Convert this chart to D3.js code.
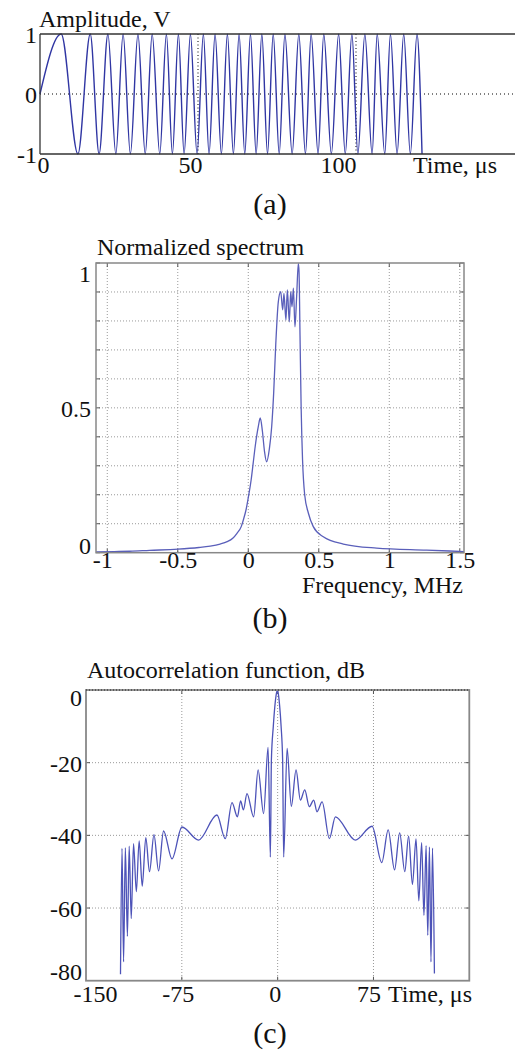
<!DOCTYPE html>
<html>
<head>
<meta charset="utf-8">
<script src="https://cdn.jsdelivr.net/npm/d3@7/dist/d3.min.js"></script>
<style>
body { margin: 0; background: #fff; font-family: "Liberation Serif"; }
svg { display: block; }
</style>
</head>
<body>
<div id="chart"></div>
<script>
// (a) chirp pulse: times of the extrema, us
var chirpTime = [0, 6.7, 12.0, 15.9, 18.7, 21.5, 24.0, 26.3, 28.6, 31.0, 33.3, 35.5, 37.9,
    40.0, 41.9, 43.8, 45.6, 47.6, 49.7, 51.7, 53.5, 55.4, 57.4, 59.3, 61.2, 63.0, 64.8,
    66.6, 68.4, 70.2, 72.0, 73.8, 75.7, 77.5, 79.8, 81.9, 84.0, 85.8, 88.0, 89.8, 92.2,
    94.5, 96.6, 98.7, 100.6, 102.8, 105.1, 106.7, 109.1, 110.9, 113.0, 115.1, 117.2, 119.3, 120.9];
var chirpLevel = [0, 1, -1, 1, -1, 1, -1, 1, -1, 1, -1, 1, -1,
    1, -1, 1, -1, 1, -1, 1, -1, 1, -1, 1, -1, 1, -1,
    1, -1, 1, -1, 1, -1, 1, -1, 1, -1, 1, -1, 1, -1,
    1, -1, 1, -1, 1, -1, 1, -1, 1, -1, 1, -1, 1, -1];
var ampTicksX = [0, 50, 100];
var ampTicksY = [1, 0, -1];
var ampGridX = [50, 100];

// (b) normalized spectrum
var specFreq = [-1.08, -0.95, -0.84, -0.7, -0.5, -0.35, -0.27, -0.2, -0.15, -0.11,
    -0.08, -0.05, -0.035, -0.015, 0, 0.02, 0.035, 0.05, 0.071, 0.085,
    0.1, 0.115, 0.13, 0.15, 0.166, 0.18, 0.195, 0.213, 0.23, 0.244,
    0.253, 0.267, 0.277, 0.291, 0.301, 0.31, 0.32, 0.331, 0.343, 0.355,
    0.36, 0.367, 0.375, 0.385, 0.40, 0.426, 0.461, 0.532, 0.674, 0.91, 1.265, 1.53];
var specAmp = [0.003, 0.004, 0.005, 0.008, 0.012, 0.018, 0.023, 0.03, 0.038, 0.05,
    0.067, 0.09, 0.113, 0.15, 0.19, 0.25, 0.31, 0.37, 0.435, 0.465,
    0.42, 0.35, 0.314, 0.36, 0.435, 0.55, 0.72, 0.866, 0.901, 0.838,
    0.895, 0.803, 0.907, 0.797, 0.901, 0.849, 0.913, 0.78, 0.884, 0.999,
    0.97, 0.75, 0.5, 0.32, 0.2, 0.137, 0.09, 0.055, 0.03, 0.016, 0.009, 0.004];
var specTicksX = [-1, -0.5, 0, 0.5, 1, 1.5];
var specTicksY = [0, 0.5, 1];
var specGridY = [0.1, 0.2, 0.3, 0.4, 0.5, 0.6, 0.7, 0.8, 0.9];

// (c) autocorrelation function, dB
var acfTime = [-123.0, -121.8, -120.6, -119.2, -117.6, -116.2, -114.6, -112.8, -110.6, -108.4,
    -106.0, -103.2, -100.3, -96.8, -93.2, -89.3, -82.7, -74.9, -61.9, -47.5,
    -41.0, -35.7, -31.5, -29.0, -26.8, -24.0, -18.8, -15.3, -11.0, -7.5,
    -5.7, -4.9, -3.4, -2.2, -1.0, -0.3, 0.5, 1.6, 2.7, 3.9,
    4.7, 7.4, 10.7, 14.4, 17.8, 21.2, 24.8, 28.2, 30.8, 34.8,
    40.5, 45.2, 60.8, 73.9, 81.5, 86.5, 91.5, 95.5, 99.5, 102.5,
    105.5, 108.3, 110.5, 112.7, 114.5, 116.2, 117.5, 118.8, 120.0, 121.2, 122.7];
var acfDb = [-78.2, -43.6, -74.8, -43.4, -67.8, -43.0, -62.9, -42.3, -55.5, -41.5,
    -54.0, -40.6, -50.0, -39.8, -49.8, -38.8, -46.5, -37.7, -41.3, -34.4,
    -40.9, -31.0, -34.9, -30.5, -33.0, -28.5, -34.9, -22.0, -34.0, -15.8,
    -46.0, -19.3, -10.0, -4.5, -1.0, 0.0, -1.0, -4.5, -10.0, -19.3,
    -46.0, -16.1, -32.0, -22.0, -30.3, -27.5, -32.1, -30.3, -33.5, -30.8,
    -40.9, -34.9, -41.3, -37.5, -47.5, -38.5, -49.5, -39.3, -50.0, -40.2,
    -53.5, -41.0, -58.0, -42.0, -62.0, -42.8, -67.5, -43.2, -74.8, -43.5, -78.0];
var acfTicksX = [-150, -75, 0, 75];
var acfTicksY = [0, -20, -40, -60, -80];
var acfGridX = [-75, 0, 75];
var acfGridY = [-20, -40, -60];

var W = 515, H = 1059;
var FONT = "Liberation Serif";

function styleAxis(g){
    g.select(".domain").remove();
    g.selectAll(".tick line").remove();
    g.attr("font-size", 24).attr("font-family", FONT);
    g.selectAll(".tick text").attr("fill", "#111").attr("dy", null);
}

function caption(svg, txt, y){
    svg.append("text")
        .attr("x", 270).attr("y", y)
        .attr("text-anchor", "middle")
        .attr("font-size", 30)
        .attr("font-family", FONT)
        .attr("fill", "#111")
        .text(txt);
}

function title(svg, txt, x, y, anchor){
    svg.append("text")
        .attr("x", x).attr("y", y)
        .attr("text-anchor", anchor || "start")
        .attr("font-size", 24)
        .attr("font-family", FONT)
        .attr("fill", "#111")
        .text(txt);
}

function tickFmt(d){ return String(d); }

function init(){
    var svg = d3.select("#chart")
                .append("svg")
                .attr("width", W)
                .attr("height", H)
                .attr("font-family", FONT);

    //---------------- (a) ----------------
    var xa = d3.scaleLinear().domain([0, 150]).range([40, 514]);
    var ya = d3.scaleLinear().domain([-1, 1]).range([154, 34]);
    var ga = svg.append("g");

    ga.append("line")
        .attr("x1", xa(0)).attr("x2", W)
        .attr("y1", ya(0)).attr("y2", ya(0))
        .attr("stroke", "#000").attr("stroke-dasharray", "1,3");
    ga.selectAll(".vg").data(ampGridX).enter().append("line")
        .attr("x1", function(d){ return xa(d); })
        .attr("x2", function(d){ return xa(d); })
        .attr("y1", ya(1)).attr("y2", ya(-1))
        .attr("stroke", "#000").attr("stroke-dasharray", "1,2.5");

    var chirpLine = d3.line()
        .x(function(d){ return xa(d[0]); })
        .y(function(d){ return ya(d[1]); })
        .curve(d3.curveMonotoneX);
    ga.append("path")
        .datum(d3.zip(chirpTime, chirpLevel))
        .attr("d", chirpLine)
        .attr("fill", "none")
        .attr("stroke", "#3036a3")
        .attr("stroke-width", 1.4);

    ga.append("line").attr("x1", xa(0)).attr("x2", W).attr("y1", ya(1)).attr("y2", ya(1))
        .attr("stroke", "#333").attr("stroke-width", 1.3);
    ga.append("line").attr("x1", xa(0)).attr("x2", W).attr("y1", ya(-1)).attr("y2", ya(-1))
        .attr("stroke", "#333").attr("stroke-width", 1.3);
    ga.append("line").attr("x1", xa(0)).attr("x2", xa(0)).attr("y1", ya(1)).attr("y2", ya(-1))
        .attr("stroke", "#333").attr("stroke-width", 1.3);

    var gax = ga.append("g")
        .call(d3.axisBottom(xa).tickValues(ampTicksX).tickFormat(tickFmt));
    styleAxis(gax);
    gax.selectAll(".tick text")
        .attr("x", function(d){ return {0: 3, 50: -8, 100: -18}[d]; })
        .attr("y", 173);

    var gay = ga.append("g").attr("transform", "translate(37,0)")
        .call(d3.axisLeft(ya).tickValues(ampTicksY).tickFormat(tickFmt));
    styleAxis(gay);
    gay.selectAll(".tick text").attr("x", 0).attr("y", 8);

    title(svg, "Amplitude, V", 39, 27);
    title(svg, "Time, \u03bcs", 413, 173);
    caption(svg, "(a)", 214);

    //---------------- (b) ----------------
    var xb = d3.scaleLinear().domain([-1.08, 1.53]).range([96, 464]);
    var yb = d3.scaleLinear().domain([0, 1]).range([552.7, 263]);
    var gb = svg.append("g");

    gb.selectAll(".hg").data(specGridY).enter().append("line")
        .attr("x1", xb.range()[0]).attr("x2", xb.range()[1])
        .attr("y1", function(d){ return yb(d); })
        .attr("y2", function(d){ return yb(d); })
        .attr("stroke", "#999").attr("stroke-dasharray", "1,2");
    gb.selectAll(".vg").data(specTicksX).enter().append("line")
        .attr("x1", function(d){ return xb(d); })
        .attr("x2", function(d){ return xb(d); })
        .attr("y1", yb(1)).attr("y2", yb(0))
        .attr("stroke", "#999").attr("stroke-dasharray", "1,2");
    // small inner ticks
    gb.selectAll(".tl").data([0].concat(specGridY, [1])).enter().append("path")
        .attr("d", function(d){
            return "M" + xb.range()[0] + "," + yb(d) + "h4M" + xb.range()[1] + "," + yb(d) + "h-4";
        })
        .attr("stroke", "#555");
    gb.selectAll(".tb").data(specTicksX).enter().append("path")
        .attr("d", function(d){
            return "M" + xb(d) + "," + yb(0) + "v-4M" + xb(d) + "," + yb(1) + "v4";
        })
        .attr("stroke", "#555");

    var specLine = d3.line()
        .x(function(d){ return xb(d[0]); })
        .y(function(d){ return yb(d[1]); })
        .curve(d3.curveMonotoneX);
    gb.append("path")
        .datum(d3.zip(specFreq, specAmp))
        .attr("d", specLine)
        .attr("fill", "none")
        .attr("stroke", "#5a5fba")
        .attr("stroke-width", 1.3);

    gb.append("rect")
        .attr("x", xb.range()[0]).attr("y", yb(1))
        .attr("width", xb.range()[1] - xb.range()[0])
        .attr("height", yb(0) - yb(1))
        .attr("fill", "none").attr("stroke", "#888").attr("stroke-width", 1.5);

    var gbx = gb.append("g")
        .call(d3.axisBottom(xb).tickValues(specTicksX).tickFormat(tickFmt));
    styleAxis(gbx);
    gbx.selectAll(".tick text")
        .attr("x", function(d){ return d === -1 ? -5 : 0; })
        .attr("y", 568);

    var gby = gb.append("g").attr("transform", "translate(91,0)")
        .call(d3.axisLeft(yb).tickValues(specTicksY).tickFormat(tickFmt));
    styleAxis(gby);
    gby.selectAll(".tick text").attr("x", 0)
        .attr("y", function(d){ return {0: 1, 0.5: 9, 1: 18}[d]; });

    title(svg, "Normalized spectrum", 97, 255);
    title(svg, "Frequency, MHz", 463, 593, "end");
    caption(svg, "(b)", 628);

    //---------------- (c) ----------------
    var xc = d3.scaleLinear().domain([-150, 150]).range([86, 469.3]);
    var yc = d3.scaleLinear().domain([-80, 0]).range([980.7, 690]);
    var gc = svg.append("g");

    gc.selectAll(".hg").data(acfGridY).enter().append("line")
        .attr("x1", xc.range()[0]).attr("x2", xc.range()[1])
        .attr("y1", function(d){ return yc(d); })
        .attr("y2", function(d){ return yc(d); })
        .attr("stroke", "#999").attr("stroke-dasharray", "1,2");
    gc.selectAll(".vg").data(acfGridX).enter().append("line")
        .attr("x1", function(d){ return xc(d); })
        .attr("x2", function(d){ return xc(d); })
        .attr("y1", yc(0)).attr("y2", yc(-80))
        .attr("stroke", "#999").attr("stroke-dasharray", "1,2");
    gc.selectAll(".tl").data(acfGridY).enter().append("path")
        .attr("d", function(d){
            return "M" + xc.range()[0] + "," + yc(d) + "h4M" + xc.range()[1] + "," + yc(d) + "h-4";
        })
        .attr("stroke", "#555");
    gc.selectAll(".tb").data(acfGridX).enter().append("path")
        .attr("d", function(d){
            return "M" + xc(d) + "," + yc(-80) + "v-4M" + xc(d) + "," + yc(0) + "v4";
        })
        .attr("stroke", "#555");

    var acfLine = d3.line()
        .x(function(d){ return xc(d[0]); })
        .y(function(d){ return yc(d[1]); })
        .curve(d3.curveMonotoneX);
    gc.append("path")
        .datum(d3.zip(acfTime, acfDb))
        .attr("d", acfLine)
        .attr("fill", "none")
        .attr("stroke", "#4d53b8")
        .attr("stroke-width", 1.3);

    gc.append("rect")
        .attr("x", xc.range()[0]).attr("y", yc(0))
        .attr("width", xc.range()[1] - xc.range()[0])
        .attr("height", yc(-80) - yc(0))
        .attr("fill", "none").attr("stroke", "#888").attr("stroke-width", 1.8);
    gc.append("line")
        .attr("x1", xc.range()[0]).attr("x2", xc.range()[1])
        .attr("y1", yc(0)).attr("y2", yc(0))
        .attr("stroke", "#222").attr("stroke-dasharray", "1,2");

    var gcx = gc.append("g")
        .call(d3.axisBottom(xc).tickValues(acfTicksX).tickFormat(tickFmt));
    styleAxis(gcx);
    gcx.selectAll(".tick text")
        .attr("x", function(d){ return {"-150": 9, "-75": -4, 0: -3, 75: -5}[d]; })
        .attr("y", 1002);

    var gcy = gc.append("g").attr("transform", "translate(82,0)")
        .call(d3.axisLeft(yc).tickValues(acfTicksY).tickFormat(tickFmt));
    styleAxis(gcy);
    gcy.selectAll(".tick text").attr("x", 0)
        .attr("y", function(d){ return {0: 15, "-20": 8.5, "-40": 8.5, "-60": 8.5, "-80": -1}[d]; });

    title(svg, "Autocorrelation function, dB", 87, 678);
    title(svg, "Time, \u03bcs", 388, 1002);
    caption(svg, "(c)", 1043);
}

window.onload = init;
</script>
</body>
</html>
